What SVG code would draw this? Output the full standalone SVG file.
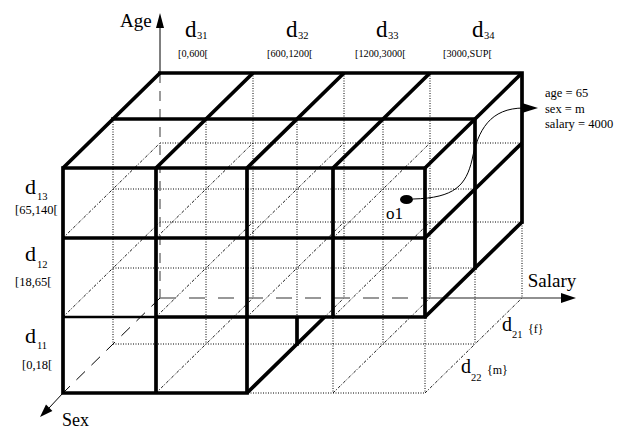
<svg xmlns="http://www.w3.org/2000/svg" width="622" height="430" viewBox="0 0 622 430">
<style>
text{font-family:"Liberation Serif","Times New Roman",serif;fill:#000}
.dot{fill:none;stroke:#000;stroke-width:1;stroke-dasharray:1 1.5}
.dd{fill:none;stroke:#000;stroke-width:0.9;stroke-dasharray:3 1.6 1 1.6}
.thk{fill:none;stroke:#000;stroke-width:3.7;stroke-linecap:square}
.thkd{fill:none;stroke:#000;stroke-width:3.7;stroke-linecap:butt}
.big{font-size:23px}
.bigl{font-size:22px}
.sub{font-size:10.5px}
.rng{font-size:10.3px}
.rngl{font-size:12.5px}
</style>
<rect width="622" height="430" fill="#fff"/>
<g id="lattice">
<path class="dot" d="M63,168H425M63,238H425M63,317H425M63,393H425M113,119H475M113,189H475M113,268H475M113,344H475M160,73H522M160,143H522M160,222H522"/>
<path class="dot" d="M63,168V393M156,168V393M247,168V393M333,168V393M425,168V393M113,119V344M206,119V344M297,119V344M383,119V344M475,119V344M253,73V298M344,73V298M430,73V298M522,73V298"/>
<path class="dd" d="M63,168L160,73M156,168L253,73M247,168L344,73M333,168L430,73M425,168L522,73M63,238L160,143M156,238L253,143M247,238L344,143M333,238L430,143M425,238L522,143M63,317L160,222M156,317L253,222M247,317L344,222M333,317L430,222M425,317L522,222M156,393L253,298M247,393L344,298M333,393L430,298M425,393L522,298"/>
</g>
<g id="axes">
<path d="M160,73V298" fill="none" stroke="#666" stroke-width="1.3" stroke-dasharray="10 8"/>
<path d="M160,26V73" fill="none" stroke="#000" stroke-width="1"/>
<polygon points="160,13 156,28 164,28" fill="#000"/>
<path d="M160,298H425" fill="none" stroke="#777" stroke-width="1.6" stroke-dasharray="16 13"/>
<path d="M425,298H563" fill="none" stroke="#222" stroke-width="1.2"/>
<polygon points="576,298 561,293 561,303" fill="#000"/>
<path d="M160,298L63,393" fill="none" stroke="#000" stroke-width="1" stroke-dasharray="12 9"/>
<path d="M63,393L49,408" fill="none" stroke="#000" stroke-width="1"/>
<polygon points="40,417 52.4,411 46,404.6" fill="#000"/>
</g>
<g id="cube">
<path class="thk" d="M63,168H425M63,238H425M156,317H425M63,393H247M63,168V393M156,168V393M247,168V393M333,168V317M425,168V317M113,119H475M160,73H522M475,119V268M522,73V222M297,317V344"/>
<path d="M63,317H156" fill="none" stroke="#000" stroke-width="2.5"/>
<path class="thkd" d="M63,168L160,73M156,168L253,73M247,168L344,73M333,168L430,73M425,168L522,73M425,238L522,143M425,317L522,222M247,393L324.6,317"/>
</g>
<g id="labels">
<text x="120" y="27" font-size="19">Age</text>
<text x="552" y="287" font-size="19" text-anchor="middle">Salary</text>
<text x="62" y="426" font-size="18">Sex</text>
<text x="185" y="37" class="big">d</text><text x="197" y="39" class="sub">31</text>
<text x="286" y="37" class="big">d</text><text x="298" y="39" class="sub">32</text>
<text x="376" y="37" class="big">d</text><text x="388" y="39" class="sub">33</text>
<text x="472" y="37" class="big">d</text><text x="484" y="39" class="sub">34</text>
<text x="178" y="57" class="rng">[0,600[</text>
<text x="267" y="57" class="rng">[600,1200[</text>
<text x="355" y="57" class="rng">[1200,3000[</text>
<text x="443" y="57" class="rng">[3000,SUP[</text>
<text x="25" y="194" class="bigl">d</text><text x="37" y="200" class="sub">13</text>
<text x="15" y="214" class="rngl">[65,140[</text>
<text x="25" y="261" class="bigl">d</text><text x="37" y="268" class="sub">12</text>
<text x="15" y="286" class="rngl">[18,65[</text>
<text x="25" y="343" class="bigl">d</text><text x="37" y="349" class="sub">11</text>
<text x="22" y="369" class="rngl">[0,18[</text>
<text x="502" y="331" font-size="20">d</text><text x="512" y="338" class="sub">21</text>
<text x="528" y="333" font-size="12">{f}</text>
<text x="461" y="373" font-size="20">d</text><text x="471" y="381" class="sub">22</text>
<text x="487" y="374" font-size="12">{m}</text>
</g>
<g id="point-o1">
<ellipse cx="406.5" cy="199.5" rx="6.5" ry="4.5" fill="#000"/>
<text x="386" y="219" font-size="17">o1</text>
</g>
<g id="annotation">
<path d="M413,199C455,198 466,185 472,160C478,130 490,108 524,108" fill="none" stroke="#000" stroke-width="1"/>
<polygon points="538,108 522,103 522,113" fill="#000"/>
<text x="545" y="97" font-size="12.5">age = 65</text>
<text x="545" y="113" font-size="12.5">sex = m</text>
<text x="545" y="128" font-size="12.5">salary = 4000</text>
</g>
</svg>
